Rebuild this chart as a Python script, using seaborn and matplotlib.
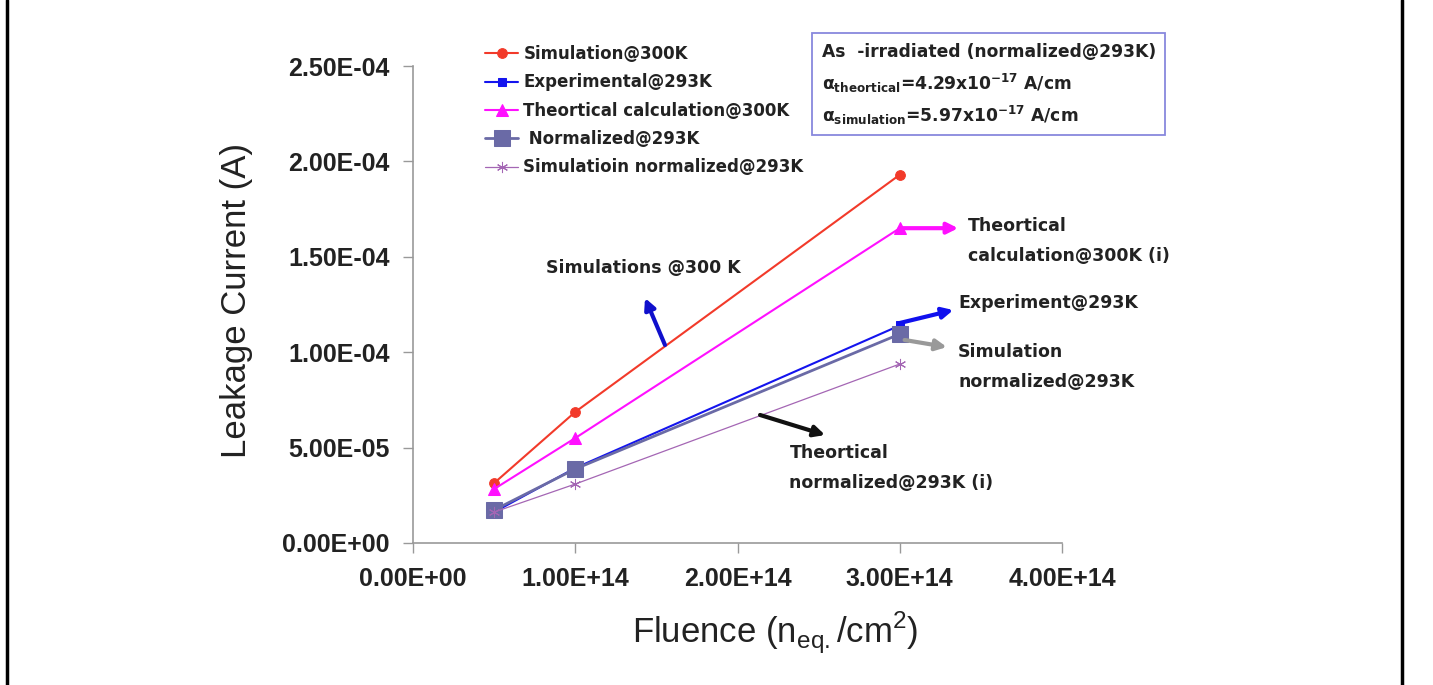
import numpy as np
import pandas as pd
import matplotlib
matplotlib.use("Agg")
import matplotlib.pyplot as plt
from matplotlib.ticker import FuncFormatter
from matplotlib.patches import Rectangle
from matplotlib.lines import Line2D
import seaborn as sns

# data
fluence = [5e13, 1e14, 3e14]
sim_300 = [3.14e-5, 6.87e-5, 1.93e-4]
exp_293 = [1.62e-5, 3.93e-5, 1.14e-4]
theo_300 = [2.83e-5, 5.50e-5, 1.65e-4]
norm_293 = [1.73e-5, 3.88e-5, 1.095e-4]
sim_norm_293 = [1.62e-5, 3.09e-5, 9.38e-5]

labels = ['Simulation@300K', 'Experimental@293K', 'Theortical calculation@300K',
          ' Normalized@293K', 'Simulatioin normalized@293K']
series = [sim_300, exp_293, theo_300, norm_293, sim_norm_293]
colors = ['#f23a2a', '#1414ee', '#ff10ff', '#6a6aa6', '#a466b4']
markers = ['o', 's', '^', 's', (6, 2, 0)]
msizes = [7, 6, 8, 12, 8]
lwidths = [1.5, 1.5, 1.5, 2.0, 0.9]

df = pd.concat([pd.DataFrame({'Fluence': fluence, 'Current': s, 'Series': l})
                for s, l in zip(series, labels)], ignore_index=True)

sns.set_style('ticks')
plt.rcParams['font.family'] = ['DejaVu Sans']

fig = plt.figure(figsize=(14.33, 6.85), dpi=100)
ax = fig.add_axes([413/1433, 1-543/685, 649/1433, 477/685])

for lab, c, m, ms, lw in zip(labels, colors, markers, msizes, lwidths):
    sub = df[df['Series'] == lab]
    sns.lineplot(data=sub, x='Fluence', y='Current', ax=ax, color=c, marker=m,
                 markersize=ms, linewidth=lw, markeredgecolor=c, label=lab)

ax.set_xlim(0, 4e14)
ax.set_ylim(0, 2.5e-4)
ax.set_xticks([0, 1e14, 2e14, 3e14, 4e14])
ax.set_yticks([0, 5e-5, 1e-4, 1.5e-4, 2e-4, 2.5e-4])
fmt = FuncFormatter(lambda v, p: f"{v:.2E}")
ax.xaxis.set_major_formatter(fmt)
ax.yaxis.set_major_formatter(fmt)
for t in ax.get_xticklabels() + ax.get_yticklabels():
    t.set_family('Liberation Sans')
    t.set_fontweight('bold')
    t.set_fontsize(18)
    t.set_color('#222222')
ax.tick_params(axis='both', length=7, width=1, color='#999999', pad=10)
sns.despine(ax=ax)
for s in ['left', 'bottom']:
    ax.spines[s].set_color('#999999')
    ax.spines[s].set_linewidth(1.2)

ax.set_xlabel('Fluence (n$_{\\mathregular{eq.}}$/cm$^{\\mathregular{2}}$)',
              family='Liberation Sans', fontsize=25, color='#222222')
ax.set_ylabel('Leakage Current (A)', family='Liberation Sans', fontsize=25,
              color='#222222')
ax.xaxis.set_label_coords(0.558, -0.14)
ax.yaxis.set_label_coords(-0.247, 0.509)

leg = ax.legend(loc='upper left', bbox_to_anchor=(485/1433, 1-45/685),
                bbox_transform=fig.transFigure, frameon=False, fontsize=12,
                handlelength=2.0, handletextpad=0.3, labelspacing=0.62,
                borderpad=0, borderaxespad=0)
for t in leg.get_texts():
    t.set_fontweight('bold')
    t.set_color('#222222')

# info box
fig.add_artist(Rectangle((812/1433, 1-135/685), 353/1433, 102/685,
                         transform=fig.transFigure, fill=False,
                         edgecolor='#8888dd', linewidth=1.3))
bkw = dict(fontsize=12.3, fontweight='bold', va='center', color='#222222')
fig.text(822/1433, 1-52/685, 'As  -irradiated (normalized@293K)', **bkw)
fig.text(822/1433, 1-83/685,
         r'$\mathbf{\alpha_{theortical}}$=4.29x10$^{\mathbf{-17}}$ A/cm', **bkw)
fig.text(822/1433, 1-115/685,
         r'$\mathbf{\alpha_{simulation}}$=5.97x10$^{\mathbf{-17}}$ A/cm', **bkw)

# arrows and callouts
akw = dict(fontsize=12.5, fontweight='bold', color='#222222', va='center')
def arrow(x0, y0, x1, y1, c, lw=3):
    ax.annotate('', xy=(x1, y1), xytext=(x0, y0), annotation_clip=False,
                arrowprops=dict(arrowstyle='-|>', color=c, lw=lw,
                                mutation_scale=16, shrinkA=0, shrinkB=0))

arrow(1.553e14, 1.038e-4, 1.43e14, 1.284e-4, '#1010cc')
ax.text(0.82e14, 1.44e-4, 'Simulations @300 K', **akw)
arrow(3.0e14, 1.65e-4, 3.36e14, 1.65e-4, '#ff10ff')
ax.text(3.42e14, 1.583e-4, 'Theortical\ncalculation@300K (i)', linespacing=1.8,
        clip_on=False, **akw)
arrow(3.0e14, 1.153e-4, 3.33e14, 1.221e-4, '#1010ee')
ax.text(3.36e14, 1.258e-4, 'Experiment@293K', clip_on=False, **akw)
arrow(3.03e14, 1.064e-4, 3.29e14, 1.027e-4, '#999999')
ax.text(3.36e14, 9.22e-5, 'Simulation\nnormalized@293K', linespacing=1.8,
        clip_on=False, **akw)
arrow(2.139e14, 6.71e-5, 2.54e14, 5.66e-5, '#111111')
ax.text(2.32e14, 3.93e-5, 'Theortical\nnormalized@293K (i)', linespacing=1.8, **akw)

# page border lines
fig.add_artist(Line2D([7/1433, 7/1433], [0, 1], transform=fig.transFigure,
                      color='black', linewidth=2.5))
fig.add_artist(Line2D([1402/1433, 1402/1433], [0, 1], transform=fig.transFigure,
                      color='black', linewidth=2.5))

fig.savefig('out.png', dpi=100)
